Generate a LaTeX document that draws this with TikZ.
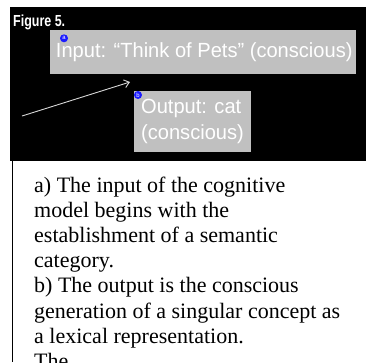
\documentclass[tikz,border=0pt]{standalone}
\usepackage{fontspec}
\setmainfont{Liberation Serif}
\newfontfamily\labelsans{Liberation Sans}[FakeStretch=0.98]
\newfontfamily\headsans{Liberation Sans}[FakeStretch=0.78]
\usetikzlibrary{arrows.meta}
\definecolor{boxgray}{HTML}{C0C0C0}
\definecolor{markblue}{HTML}{1A1AFF}
\definecolor{arrowgray}{HTML}{D8D8D8}
\begin{document}
\begin{tikzpicture}[x=1pt,y=-1pt,
  graybox/.style={fill=boxgray, draw=none, inner sep=0pt, text=white,
    font=\labelsans\fontsize{20.5}{26}\selectfont},
  marker/.style={circle, fill=markblue, inner sep=0pt, minimum size=8pt,
    text=white, font=\labelsans\fontsize{6}{6}\selectfont},
  caption/.style={anchor=base west, align=left, inner sep=0pt,
    font=\fontsize{22}{25.2}\selectfont},
  flow/.style={draw=arrowgray, line width=0.9pt,
    -{Straight Barb[length=5pt,width=8pt]}}
]
\useasboundingbox (0,0) rectangle (366,362);
\clip (0,0) rectangle (366,362);
\fill[white] (0,0) rectangle (366,362);
\fill[black] (10,7) rectangle (366,161);
\draw[line width=1.5pt] (12.7,161) -- (12.7,362);
\node[anchor=base west, text=white, inner sep=0pt,
  font=\headsans\bfseries\fontsize{16}{16}\selectfont] (fig) at (13,26) {Figure 5.};
\node[graybox, minimum width=306pt, minimum height=44pt] (input) at (203,52)
  {\hspace*{2.5pt}Input: “Think of Pets” (conscious)};
\node[graybox, minimum width=117pt, minimum height=61pt, align=left] (output) at (192.5,121.3)
  {Output: cat\\(conscious)};
\node[marker] (ma) at (64,38.3) {a};
\node[marker] (mb) at (138,95) {b};
\coordinate (arrowtail) at (22,116);
\coordinate (arrowhead) at (130,82);
\draw[flow] (arrowtail) -- (arrowhead);
\node[caption] (caption) at (34,368.4) {a) The input of the cognitive\\
model begins with the\\
establishment of a semantic\\
category.\\
b) The output is the conscious\\
generation of a singular concept as\\
a lexical representation.\\
The};
\end{tikzpicture}
\end{document}
